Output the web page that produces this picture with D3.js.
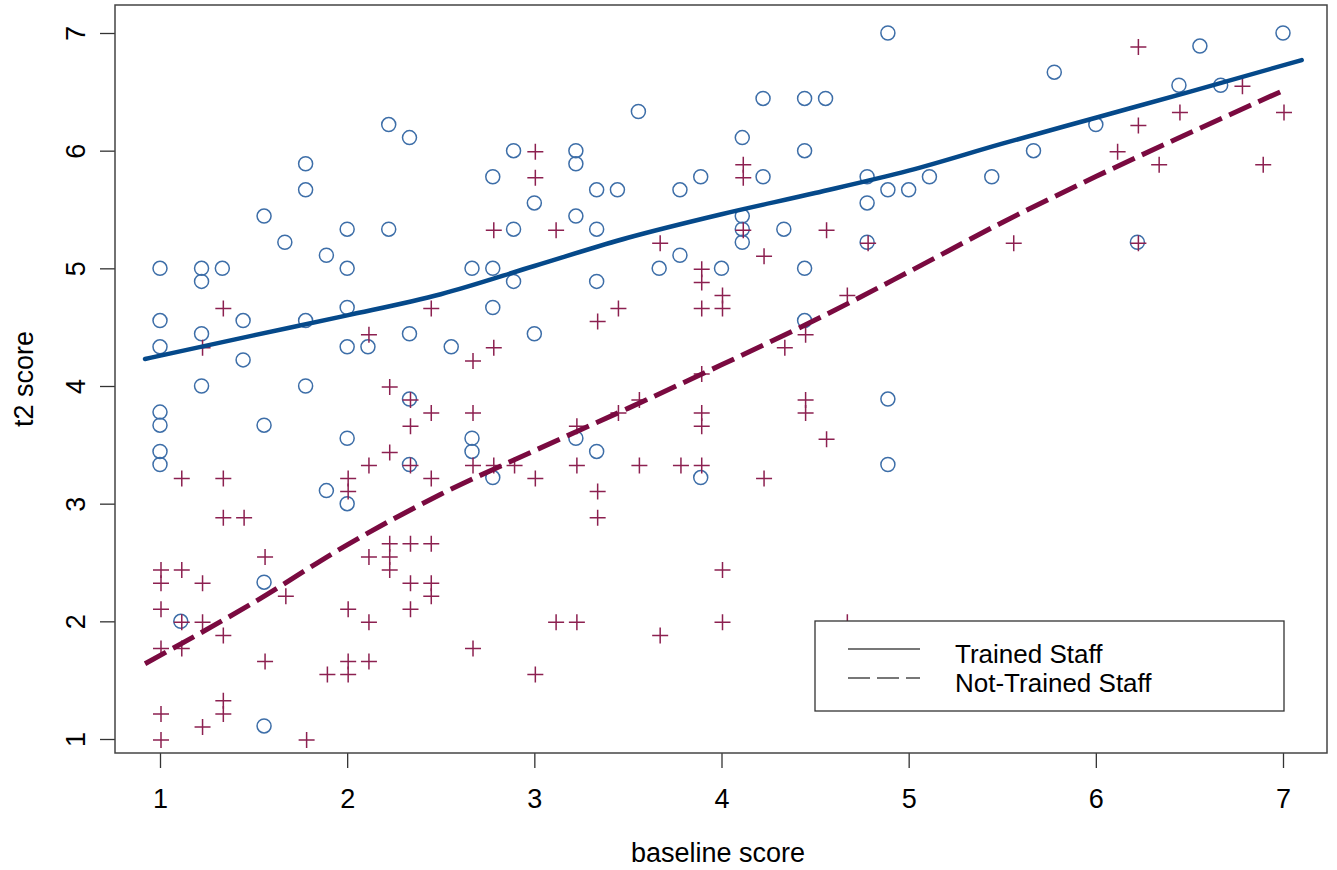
<!DOCTYPE html>
<html>
<head>
<meta charset="utf-8">
<script src="https://cdn.jsdelivr.net/npm/d3@7"></script>
<style>
  html, body { margin: 0; padding: 0; background: #fff; }
  svg { display: block; font-family: "Liberation Sans", Arial, sans-serif; }
</style>
</head>
<body>
<svg id="chart"></svg>
<script>
// Data (baseline score, t2 score)
const trainedPoints = [
  [1, 5.0], [1.222, 5.0], [1.222, 4.889], [1.333, 5.0], [1, 4.556], [1, 4.333],
  [1.222, 4.444], [1.444, 4.556], [1.444, 4.222], [1.222, 4.0], [1.778, 4.0],
  [1.778, 4.556], [1.778, 5.889], [1.778, 5.667], [1.556, 5.444], [1.667, 5.222],
  [1.889, 5.111], [2.0, 5.333], [2.0, 5.0], [2.0, 4.667], [2.0, 4.333], [2.111, 4.333],
  [2.222, 6.222], [2.222, 5.333], [2.333, 6.111], [2.333, 4.444], [2.333, 3.889],
  [2.556, 4.333], [2.667, 5.0], [2.778, 5.0], [2.778, 5.778], [2.778, 4.667],
  [2.889, 6.0], [2.889, 5.333], [2.889, 4.889], [3.0, 5.556], [3.0, 4.444],
  [1, 3.778], [1, 3.667], [1, 3.444], [1, 3.333], [1.556, 3.667], [2.0, 3.556],
  [2.667, 3.556], [2.667, 3.444], [2.333, 3.333], [2.778, 3.222], [1.889, 3.111],
  [2.0, 3.0], [1.556, 2.333], [1.111, 2.0], [1.556, 1.111],
  [4.889, 7.0], [4.222, 6.444], [4.444, 6.444], [4.556, 6.444], [3.556, 6.333],
  [4.111, 6.111], [3.222, 6.0], [3.222, 5.889], [4.444, 6.0], [3.889, 5.778],
  [4.222, 5.778], [3.333, 5.667], [3.444, 5.667], [3.778, 5.667], [3.222, 5.444],
  [3.333, 5.333], [4.111, 5.444], [4.111, 5.333], [4.111, 5.222], [4.333, 5.333],
  [3.778, 5.111], [3.667, 5.0], [4.0, 5.0], [4.444, 5.0], [3.333, 4.889],
  [4.778, 5.778], [4.889, 5.667], [5.0, 5.667], [5.111, 5.778], [4.778, 5.556],
  [4.778, 5.222], [4.444, 4.556], [4.889, 3.889], [4.889, 3.333], [3.222, 3.556],
  [3.333, 3.444], [3.889, 3.222],
  [7.0, 7.0], [6.556, 6.889], [5.778, 6.667], [6.444, 6.556], [6.667, 6.556],
  [6.0, 6.222], [5.667, 6.0], [5.444, 5.778], [6.222, 5.222]
];

const notTrainedPoints = [
  [1.333, 4.667], [1.222, 4.333], [2.111, 4.444], [2.444, 4.667], [2.667, 4.222],
  [2.778, 4.333], [2.778, 5.333], [3.0, 6.0], [3.0, 5.778], [3.111, 5.333],
  [2.222, 4.0], [2.333, 3.889], [2.333, 3.667], [2.444, 3.778], [2.667, 3.778],
  [2.222, 3.444], [2.111, 3.333], [2.333, 3.333], [2.667, 3.333], [2.778, 3.333],
  [2.889, 3.333], [2.444, 3.222], [3.0, 3.222], [1.111, 3.222], [1.333, 3.222],
  [2.0, 3.222], [2.0, 3.111], [1.333, 2.889], [1.444, 2.889], [1.556, 2.556],
  [1.111, 2.444], [1, 2.444], [1, 2.333], [1.222, 2.333], [2.111, 2.556],
  [2.222, 2.667], [2.222, 2.556], [2.222, 2.444], [2.333, 2.667], [2.444, 2.667],
  [2.333, 2.333], [2.444, 2.333], [2.444, 2.222], [1.667, 2.222], [1, 2.111],
  [1.222, 2.0], [1.111, 2.0], [1.333, 1.889], [1, 1.778], [1.111, 1.778],
  [2.0, 2.111], [2.111, 2.0], [2.333, 2.111], [2.667, 1.778], [1.556, 1.667],
  [2.0, 1.667], [2.111, 1.667], [1.889, 1.556], [2.0, 1.556], [3.0, 1.556],
  [3.111, 2.0], [1.333, 1.333], [1.333, 1.222], [1, 1.222], [1.222, 1.111],
  [1, 1.0], [1.778, 1.0],
  [4.111, 5.889], [4.111, 5.778], [4.111, 5.333], [3.667, 5.222], [4.222, 5.111],
  [4.556, 5.333], [4.778, 5.222], [3.889, 5.0], [3.889, 4.889], [4.0, 4.778],
  [4.0, 4.667], [3.889, 4.667], [3.444, 4.667], [3.333, 4.556], [4.667, 4.778],
  [4.333, 4.333], [4.444, 4.444], [3.889, 4.111], [3.556, 3.889], [4.444, 3.889],
  [3.444, 3.778], [3.222, 3.667], [3.889, 3.778], [3.889, 3.667], [4.444, 3.778],
  [4.556, 3.556], [3.222, 3.333], [3.556, 3.333], [3.778, 3.333], [3.889, 3.333],
  [4.222, 3.222], [3.333, 3.111], [3.333, 2.889], [4.0, 2.444], [4.0, 2.0],
  [3.222, 2.0], [3.667, 1.889], [4.667, 2.0],
  [6.222, 6.889], [6.778, 6.556], [6.444, 6.333], [7.0, 6.333], [6.222, 6.222],
  [6.111, 6.0], [6.333, 5.889], [6.889, 5.889], [5.556, 5.222], [6.222, 5.222]
];

// Smoothed fit lines
const trainedFitX = [0.92, 1.5, 2.0, 2.5, 3.0, 3.5, 4.0, 4.5, 5.0, 5.5, 6.0, 6.5, 7.1];
const trainedFitY = [4.23, 4.43, 4.60, 4.78, 5.02, 5.26, 5.46, 5.64, 5.83, 6.06, 6.28, 6.50, 6.77];
const notTrainedFitX = [0.92, 1.5, 2.0, 2.5, 3.0, 3.5, 4.0, 4.5, 5.0, 5.5, 6.0, 6.5, 7.0];
const notTrainedFitY = [1.64, 2.16, 2.65, 3.08, 3.45, 3.81, 4.18, 4.56, 4.97, 5.39, 5.78, 6.15, 6.51];

const xTicks = [1, 2, 3, 4, 5, 6, 7];
const yTicks = [1, 2, 3, 4, 5, 6, 7];
const legendLabels = ["Trained Staff", "Not-Trained Staff"];

// Layout
const width = 1337, height = 870;
const box = { left: 115, right: 1327, top: 5, bottom: 753 };
const blue = "#3d6ea8", maroon = "#8c2050";
const blueLine = "#05498a", maroonLine = "#7a0a40";
const fontSize = 27;

const svg = d3.select("#chart").attr("width", width).attr("height", height);

const x = d3.scaleLinear().domain([1, 7]).range([160, 1283]);
const y = d3.scaleLinear().domain([1, 7]).range([739, 33]);

// Axes
const xAxis = svg.append("g")
    .attr("transform", `translate(0,${box.bottom})`)
    .call(d3.axisBottom(x).tickValues(xTicks).tickSize(15).tickFormat(d3.format("d")));
xAxis.select(".domain").remove();
xAxis.selectAll("line").attr("stroke", "#333").attr("stroke-width", 1.3);
xAxis.selectAll("text")
    .attr("y", 55).attr("dy", null)
    .attr("fill", "#000")
    .style("font-size", fontSize + "px")
    .style("font-family", "Liberation Sans, Arial, sans-serif");

const yAxis = svg.append("g")
    .attr("transform", `translate(${box.left},0)`)
    .call(d3.axisLeft(y).tickValues(yTicks).tickSize(15).tickFormat(d3.format("d")));
yAxis.select(".domain").remove();
yAxis.selectAll("line").attr("stroke", "#333").attr("stroke-width", 1.3);
yAxis.selectAll("text")
    .attr("x", null).attr("dy", null)
    .attr("transform", "translate(-30,0) rotate(-90)")
    .attr("text-anchor", "middle")
    .attr("fill", "#000")
    .style("font-size", fontSize + "px")
    .style("font-family", "Liberation Sans, Arial, sans-serif");

// Axis titles
svg.append("text")
    .attr("x", (box.left + box.right) / 2 - 3)
    .attr("y", 862)
    .attr("text-anchor", "middle")
    .style("font-size", fontSize + "px")
    .text("baseline score");

svg.append("text")
    .attr("transform", `translate(33,${(box.top + box.bottom) / 2}) rotate(-90)`)
    .attr("text-anchor", "middle")
    .style("font-size", fontSize + "px")
    .text("t2 score");

// Points
svg.append("g")
    .selectAll("circle")
    .data(trainedPoints)
    .join("circle")
    .attr("cx", d => x(d[0]))
    .attr("cy", d => y(d[1]))
    .attr("r", 7)
    .attr("fill", "none")
    .attr("stroke", blue)
    .attr("stroke-width", 1.5);

svg.append("g")
    .selectAll("path")
    .data(notTrainedPoints)
    .join("path")
    .attr("transform", d => `translate(${x(d[0]) + 1},${y(d[1]) + 1})`)
    .attr("d", "M-8,0H8M0,-8V8")
    .attr("fill", "none")
    .attr("stroke", maroon)
    .attr("stroke-width", 1.5);

// Fit lines
const line = d3.line()
    .x(d => x(d[0]))
    .y(d => y(d[1]))
    .curve(d3.curveMonotoneX);

svg.append("path")
    .datum(d3.zip(trainedFitX, trainedFitY))
    .attr("d", line)
    .attr("fill", "none")
    .attr("stroke", blueLine)
    .attr("stroke-width", 4.5)
    .attr("stroke-linecap", "round");

svg.append("path")
    .datum(d3.zip(notTrainedFitX, notTrainedFitY))
    .attr("d", line)
    .attr("fill", "none")
    .attr("stroke", maroonLine)
    .attr("stroke-width", 5)
    .attr("stroke-dasharray", "24,8");

// Frame
svg.append("rect")
    .attr("x", box.left)
    .attr("y", box.top)
    .attr("width", box.right - box.left)
    .attr("height", box.bottom - box.top)
    .attr("fill", "none")
    .attr("stroke", "#444")
    .attr("stroke-width", 1.5);

// Legend
const legend = svg.append("g").attr("transform", "translate(815,621)");
legend.append("rect")
    .attr("width", 469)
    .attr("height", 90)
    .attr("fill", "#fff")
    .attr("stroke", "#333")
    .attr("stroke-width", 1.3);

const entry = legend.selectAll("g.entry")
    .data(legendLabels)
    .join("g")
    .attr("class", "entry")
    .attr("transform", (d, i) => `translate(0,${28 + i * 29})`);

entry.append("line")
    .attr("x1", 33).attr("x2", 105)
    .attr("stroke", "#777")
    .attr("stroke-width", 2)
    .attr("stroke-dasharray", (d, i) => i === 0 ? null : "22,7");

entry.append("text")
    .attr("x", 140)
    .attr("y", 14)
    .style("font-size", "26px")
    .text(d => d);
</script>
</body>
</html>
